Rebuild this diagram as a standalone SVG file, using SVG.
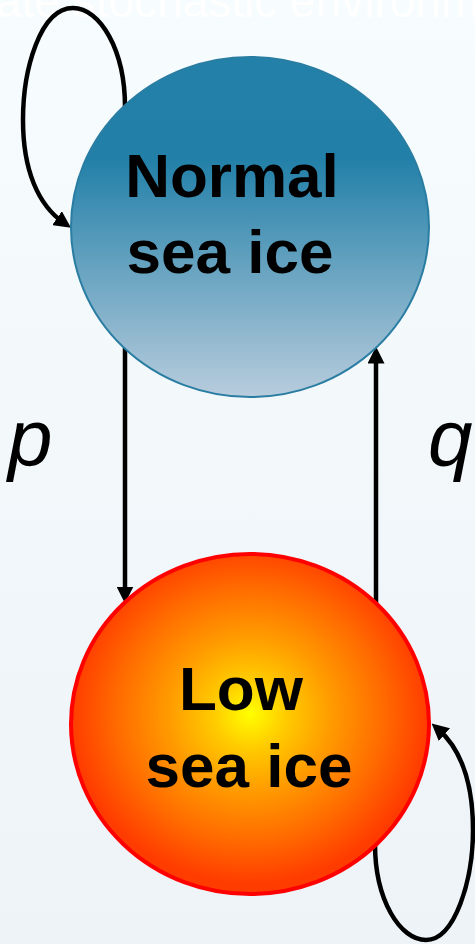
<svg xmlns="http://www.w3.org/2000/svg" width="475" height="944" viewBox="0 0 475 944">
<style>
.lbl{font-family:"Liberation Sans",Arial,sans-serif;font-weight:bold;font-size:62px;fill:#000;text-anchor:middle}
.edge{fill:none;stroke:#000;stroke-width:4.5}
.prob{font-family:"Liberation Sans",Arial,sans-serif;font-style:italic;font-size:80px;fill:#000}
</style>
<defs>
<linearGradient id="bg" x1="0" y1="0" x2="0" y2="1">
<stop offset="0" stop-color="#F7FCFE"/>
<stop offset="1" stop-color="#EDF3F7"/>
</linearGradient>
<linearGradient id="blue" x1="0" y1="0" x2="0" y2="1">
<stop offset="0" stop-color="#2380A8"/>
<stop offset="0.3" stop-color="#2280A8"/>
<stop offset="1" stop-color="#B8CCDD"/>
</linearGradient>
<radialGradient id="hot" cx="0.5" cy="0.47" r="0.5">
<stop offset="0" stop-color="#FFFF00"/>
<stop offset="0.2" stop-color="#FFCC00"/>
<stop offset="0.45" stop-color="#FF9C00"/>
<stop offset="0.75" stop-color="#FF6A00"/>
<stop offset="1" stop-color="#FF3C00"/>
</radialGradient>
<marker id="ah" viewBox="0 0 16 16" refX="8" refY="8" markerWidth="17" markerHeight="17" markerUnits="userSpaceOnUse" orient="auto">
<path d="M0,0 L16,8 L0,16 z" fill="#000"/>
</marker>
</defs>
<rect width="475" height="944" fill="url(#bg)"/>
<text x="-4" y="17" font-family="Liberation Sans, Arial, sans-serif" font-size="46" fill="#FFFFFF">ate stochastic environm</text>
<g id="connectors">
<path class="edge" d="M125,107 C125,50 100,8 73,8 C40,8 23,70 23,120 C23,170 38,205 64,223" marker-end="url(#ah)"/>
<path class="edge" d="M125,348 L125,595" marker-end="url(#ah)"/>
<path class="edge" d="M376,603 L376,355" marker-end="url(#ah)"/>
<path class="edge" d="M375,844 C375,900 400,940 426,940 C455,940 473,880 473,830 C473,785 462,750 438,729" marker-end="url(#ah)"/>
<text class="prob" x="8" y="465">p</text>
<text class="prob" x="428" y="465">q</text>
</g>
<g id="normal">
<ellipse cx="250" cy="227" rx="179" ry="170" fill="url(#blue)" stroke="#2A7DA2" stroke-width="2"/>
<text class="lbl" x="232" y="197">Normal</text>
<text class="lbl" x="230" y="273">sea ice</text>
</g>
<g id="low">
<ellipse cx="250" cy="724" rx="179" ry="170" fill="url(#hot)" stroke="#FF0000" stroke-width="4"/>
<text class="lbl" x="241" y="710">Low</text>
<text class="lbl" x="249" y="787">sea ice</text>
</g>
</svg>
